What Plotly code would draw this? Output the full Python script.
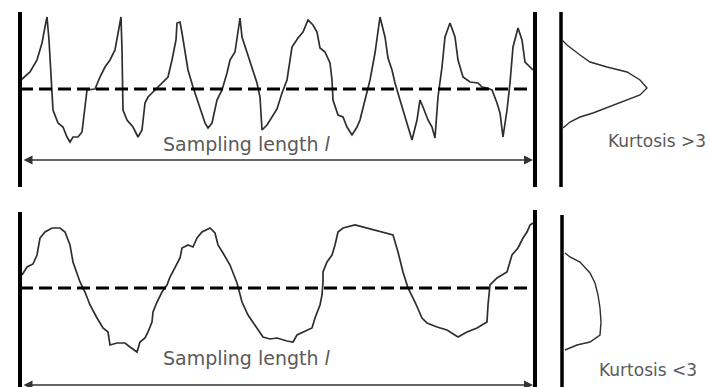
import plotly.graph_objects as go

# ---- data (profile position along sampling length in um, height relative to mean line) ----
top_x = [1, 10, 17, 22, 25, 27, 29, 32, 33, 38, 43, 47, 50, 53, 58, 62, 65, 67, 75, 80, 85, 90, 95, 98, 101,
         102, 103, 107, 113, 118, 122, 125, 128, 132, 137, 143, 148, 152, 156, 157, 160, 162, 165, 168, 173,
         180, 185, 188, 192, 197, 202, 207, 210, 215, 218, 220, 222, 227, 232, 237, 240, 242, 247, 252, 257,
         262, 267, 272, 278, 283, 288, 293, 297, 300, 305, 310, 312, 313, 318, 323, 327, 332, 337, 340, 345,
         350, 355, 360, 365, 368, 372, 375, 380, 387, 392, 397, 400, 403, 408, 412, 415, 418, 422, 425, 430,
         435, 438, 443, 450, 458, 462, 467, 472, 477, 480, 483, 487, 490, 493, 498, 502, 505, 510, 513]
top_z = [9, 17, 29, 46, 62, 72, 49, 2, -21, -34, -38, -48, -53, -48, -48, -43, -21, -1, 0, 12, 22, 29, 39, 56, 72,
         39, -21, -31, -38, -48, -41, -14, -8, -4, 1, 6, 12, 29, 49, 66, 67, 56, 36, 19, 2,
         -18, -34, -39, -34, -11, -1, 16, 29, 37, 56, 71, 52, 36, 22, 6, -8, -41, -36, -28, -20,
         -4, 9, 42, 51, 57, 69, 64, 57, 41, 37, 26, 9, -11, -26, -28, -38, -46, -38, -31, -11,
         9, 36, 72, 52, 31, 19, 6, -11, -34, -51, -31, -11, -18, -31, -38, -49, -8, 22, 52, 66,
         52, 29, 12, 7, 6, 2, 1, -1, -14, -24, -48, -21, 6, 42, 61, 49, 27, 22, 19]

bot_x = [2, 7, 13, 17, 20, 25, 32, 40, 45, 50, 53, 60, 65, 70, 77, 83, 88, 90, 97, 105, 110, 117, 120, 125,
         128, 132, 133, 137, 142, 147, 150, 155, 160, 162, 168, 173, 177, 182, 190, 195, 198, 203, 210, 217,
         222, 228, 237, 243, 250, 257, 267, 273, 277, 283, 292, 295, 300, 302, 303, 303, 307, 312, 315, 318,
         323, 335, 347, 363, 373, 378, 383, 388, 395, 402, 407, 417, 427, 438, 447, 457, 467, 468, 470, 477,
         487, 492, 498, 503, 507, 510, 513]
bot_z = [13, 21, 24, 33, 50, 56, 60, 60, 56, 43, 26, 6, -4, -17, -30, -40, -44, -57, -55, -55, -59, -64, -54, -50,
         -44, -34, -24, -14, -4, 3, 11, 21, 30, 40, 43, 41, 50, 56, 60, 55, 43, 35, 23, 5,
         -14, -27, -40, -49, -51, -50, -53, -54, -47, -44, -40, -30, -17, -7, 6, 16, 26, 33, 43, 56,
         60, 63, 60, 56, 53, 36, 16, 0, -14, -30, -35, -39, -42, -49, -44, -40, -34, -17, 3, 10,
         16, 33, 40, 50, 56, 63, 65]

# height distributions (density extent, height)
top_dist_d = [1, 6, 19, 29, 46, 66, 79, 86, 79, 66, 49, 32, 19, 9, 2]
top_dist_z = [49, 44, 34, 27, 22, 17, 9, 1, -6, -11, -18, -24, -28, -33, -39]
bot_dist_d = [3, 8, 18, 23, 28, 33, 36, 38, 39, 38, 28, 15, 3]
bot_dist_z = [35, 31, 26, 21, 15, 5, -7, -20, -34, -47, -54, -57, -62]

sampling_length = 515
dist_base = [541, 542]
labels = ["Kurtosis >3", "Kurtosis <3"]

PROFILE = "#2e2e2e"
TEXT = "#5a5a5a"
FONT = "DejaVu Sans"
fig = go.Figure()

panels = [
    dict(xa="x", ya="y", px=top_x, pz=top_z, dd=top_dist_d, dz=top_dist_z, base=dist_base[0],
         barL=(77, -98), barR=(77, -98), distbar=(77, -98), arrow_z=-71, text_z=-55,
         lab=labels[0], lab_x=637, lab_z=-52),
    dict(xa="x2", ya="y2", px=bot_x, pz=bot_z, dd=bot_dist_d, dz=bot_dist_z, base=dist_base[1],
         barL=(76, -99), barR=(78, -99), distbar=(73, -99), arrow_z=-97, text_z=-70,
         lab=labels[1], lab_x=628, lab_z=-82),
]

for p in panels:
    # profile
    fig.add_trace(go.Scatter(x=p["px"], y=p["pz"], mode="lines", xaxis=p["xa"], yaxis=p["ya"],
                             line=dict(color=PROFILE, width=1.7), showlegend=False, hoverinfo="skip"))
    # mean line
    fig.add_trace(go.Scatter(x=[0, sampling_length], y=[0, 0], mode="lines", xaxis=p["xa"], yaxis=p["ya"],
                             line=dict(color="black", width=3, dash="13px,6px"), showlegend=False,
                             hoverinfo="skip"))
    # bars
    fig.add_trace(go.Scatter(x=[0, 0], y=list(p["barL"]), mode="lines", xaxis=p["xa"], yaxis=p["ya"],
                             line=dict(color="black", width=4), showlegend=False, hoverinfo="skip"))
    fig.add_trace(go.Scatter(x=[sampling_length, sampling_length], y=list(p["barR"]), mode="lines",
                             xaxis=p["xa"], yaxis=p["ya"],
                             line=dict(color="black", width=4), showlegend=False, hoverinfo="skip"))
    fig.add_trace(go.Scatter(x=[p["base"], p["base"]], y=list(p["distbar"]), mode="lines",
                             xaxis=p["xa"], yaxis=p["ya"],
                             line=dict(color="black", width=3.5), showlegend=False, hoverinfo="skip"))
    # distribution curve
    fig.add_trace(go.Scatter(x=[p["base"] + d for d in p["dd"]], y=p["dz"], mode="lines",
                             xaxis=p["xa"], yaxis=p["ya"],
                             line=dict(color=PROFILE, width=1.4), showlegend=False, hoverinfo="skip"))
    # arrow
    fig.add_annotation(x=sampling_length - 2, y=p["arrow_z"], ax=2, ay=p["arrow_z"],
                       xref=p["xa"], yref=p["ya"], axref=p["xa"], ayref=p["ya"],
                       showarrow=True, arrowhead=2, arrowside="end+start", arrowsize=1.2,
                       arrowwidth=1.5, arrowcolor="#333333", text="")
    fig.add_annotation(x=227, y=p["text_z"], xref=p["xa"], yref=p["ya"], showarrow=False,
                       text="Sampling length <i>l</i>",
                       font=dict(family=FONT, size=19, color=TEXT))
    fig.add_annotation(x=p["lab_x"], y=p["lab_z"], xref=p["xa"], yref=p["ya"], showarrow=False,
                       text=p["lab"], font=dict(family=FONT, size=17, color=TEXT))

ax_common = dict(visible=False, showgrid=False, zeroline=False, fixedrange=True)
fig.update_layout(
    width=709, height=387, margin=dict(l=0, r=0, t=0, b=0),
    paper_bgcolor="white", plot_bgcolor="white",
    xaxis=dict(domain=[0, 1], range=[-20, 689], anchor="y", **ax_common),
    yaxis=dict(domain=[0.5, 1], range=[-104.5, 89], anchor="x", **ax_common),
    xaxis2=dict(domain=[0, 1], range=[-20, 689], anchor="y2", **ax_common),
    yaxis2=dict(domain=[0, 0.5], range=[-99, 94.5], anchor="x2", **ax_common),
)

fig.write_html("out.html")
